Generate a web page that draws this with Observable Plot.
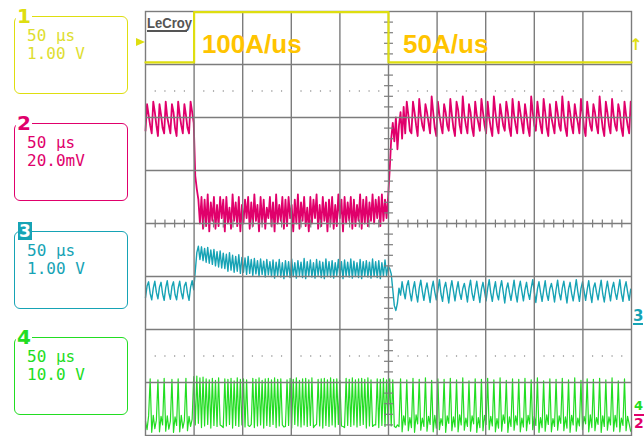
<!DOCTYPE html>
<html><head><meta charset="utf-8">
<script src="https://cdn.jsdelivr.net/npm/d3@7"></script>
<script src="https://cdn.jsdelivr.net/npm/@observablehq/plot@0.6"></script>
<style>
html,body{margin:0;padding:0;background:#fff;}
#wrap{position:relative;width:644px;height:436px;overflow:hidden;font-family:"DejaVu Sans",sans-serif;}
#chart{position:absolute;left:0;top:0;}
.box{position:absolute;left:14px;width:114px;height:78px;box-sizing:border-box;border:1.5px solid;border-radius:6px;padding:9.5px 0 0 12px;}
.box .l{font-family:"DejaVu Sans Mono",monospace;font-size:16px;line-height:18px;white-space:pre;}
.tag{position:absolute;font-weight:bold;font-size:20px;line-height:20px;background:#fff;padding:0 1px;}
.rmark{position:absolute;font-weight:bold;line-height:14px;}
#logo{position:absolute;left:147px;top:15px;font-family:"Liberation Sans",Arial,sans-serif;font-weight:bold;font-size:15px;line-height:15px;color:#555;transform:scaleX(0.87);transform-origin:left top;}
#logoline{position:absolute;left:147px;top:30px;width:40px;height:2px;background:#555;}
#trig{position:absolute;left:136px;top:38px;width:0;height:0;border-left:9px solid #dede10;border-top:4px solid transparent;border-bottom:4px solid transparent;}
</style>
</head><body>
<div id="wrap"><div id="chart"></div></div>
<script>
// ---- scope settings ----
const DT = 1.6;                       // µs between samples
const xGrid = [0,50,100,150,200,250,300,350,400,450,500];   // µs, 50 µs/div
const yGrid = [-4,-3,-2,-1,0,1,2,3,4];                       // divisions

// channel 1 (V): current-step trigger (load step)
const ch1Times  = [0, 50, 50, 250, 250, 500];
const ch1Values = [0, 0, 0.95, 0.95, 0, 0];

// channel 2 (mV): output voltage ripple
const ch2Before = [-5,5,1,-3, -6,6,2,-3, -7,5,1,-4, -6,6,0,-3, -6,5,2,-4, -7,6,1,-3, -6,5,1,-4, -6,6,2,-2];
const ch2During = [-22,-27,-31,
 -40,-30, -42,-31, -41,-29, -43,-32, -39,-30, -42,-33, -41,-30, -38,-31, -43,-30, -40,-34,
 -42,-29, -39,-32, -41,-30, -43,-33, -40,-31, -38,-30, -42,-32, -41,-29, -39,-33, -43,-30,
 -40,-31, -42,-34, -38,-30, -41,-32, -43,-29, -40,-33, -39,-30, -42,-31, -41,-30, -38,-33,
 -43,-31, -40,-29, -42,-32, -39,-30, -41,-34, -43,-30, -40,-31, -38,-29, -42,-33, -41,-30,
 -39,-32, -43,-31, -40,-30, -42,-33, -41,-29, -38,-31, -43,-30, -40,-32, -39,-30, -42,-31,
 -41,-33, -39,-29, -42,-31, -40,-30, -41,-32, -39,-29, -40,-31, -38,-30, -41,-29, -39,-31,
 -38,-30];
const ch2After = [-20,-8,-2,-9,0,-12,-3,2,-8,4,-6,6,1,-5,
 -6,6,2,-3, -7,7,1,-3, -5,5,2,-2, -6,8,2,-4, -7,6,1,-3,
 -6,5,2,-3, -5,7,1,-4, -7,6,3,-3, -6,8,1,-3, -6,5,2,-4,
 -7,6,1,-2, -5,7,2,-3, -6,6,0,-4, -7,8,2,-3, -6,5,1,-3,
 -5,6,2,-4, -7,7,1,-3, -6,6,2,-2, -6,5,1,-4, -7,8,2,-3,
 -5,6,1,-3, -6,7,2,-4, -7,5,0,-3, -6,6,2,-3, -5,8,1,-4,
 -7,6,2,-3, -6,5,1,-2, -6,7,2,-4, -7,6,1,-3, -5,5,2,-3,
 -6,8,1,-4, -7,6,2,-3, -6,7,1,-3, -5,5,2,-4, -7,6,1,-3,
 -6,6];

// channel 3 (V)
const ch3Before = [0.40,0.62,0.70,0.48, 0.36,0.58,0.71,0.50, 0.38,0.60,0.69,0.47, 0.35,0.59,0.72,0.49,
 0.37,0.61,0.70,0.46, 0.36,0.58,0.71,0.50, 0.38,0.62,0.69,0.48, 0.35,0.60,0.72,0.55];
const ch3During = [0.90,1.25,1.37,
 1.12,1.36, 1.10,1.33, 1.07,1.35, 1.05,1.30, 1.03,1.31, 1.00,1.27, 0.98,1.28, 0.96,1.24, 0.95,1.22, 0.90,1.25,
 0.92,1.20, 0.88,1.18, 0.90,1.21, 0.86,1.16, 0.88,1.15, 0.84,1.18, 0.86,1.12, 0.82,1.14, 0.85,1.10, 0.80,1.13,
 0.84,1.09, 0.79,1.12, 0.83,1.08, 0.80,1.11, 0.77,1.07, 0.82,1.12, 0.79,1.06, 0.76,1.10, 0.81,1.08, 0.78,1.13,
 0.80,1.06, 0.77,1.10, 0.82,1.07, 0.78,1.14, 0.76,1.08, 0.81,1.11, 0.79,1.06, 0.77,1.12, 0.82,1.09, 0.78,1.07,
 0.76,1.13, 0.80,1.08, 0.79,1.10, 0.77,1.06, 0.82,1.12, 0.78,1.08, 0.76,1.11, 0.81,1.07, 0.79,1.13, 0.77,1.09,
 0.80,1.06, 0.78,1.12, 0.76,1.08, 0.81,1.10, 0.79,1.07, 0.77,1.13, 0.80,1.08, 0.78,1.10, 0.76,1.06, 0.81,1.11,
 0.82,1.00];
const ch3After = [0.95,0.85,0.55,0.25,0.16,0.30,0.58,0.45,0.70,0.52,0.38,0.62,
 0.72,0.50,0.34,0.56, 0.70,0.48,0.32,0.58, 0.73,0.52,0.35,0.55, 0.68,0.49,0.31,0.57, 0.71,0.51,0.36,0.54, 0.74,0.47,0.33,0.58,
 0.69,0.50,0.30,0.56, 0.72,0.53,0.34,0.55, 0.70,0.49,0.37,0.57, 0.67,0.51,0.32,0.58, 0.73,0.48,0.35,0.54, 0.71,0.50,0.31,0.56,
 0.69,0.52,0.34,0.57, 0.74,0.49,0.33,0.55, 0.70,0.47,0.36,0.58, 0.72,0.51,0.30,0.56, 0.68,0.50,0.35,0.54, 0.73,0.48,0.32,0.57,
 0.71,0.52,0.34,0.55, 0.69,0.49,0.37,0.58, 0.74,0.51,0.31,0.56, 0.70,0.50,0.33,0.54, 0.72,0.47,0.35,0.57, 0.67,0.52,0.32,0.55,
 0.73,0.49,0.36,0.58, 0.71,0.50,0.30,0.56, 0.69,0.48,0.34,0.54, 0.74,0.51,0.33,0.57, 0.70,0.53,0.35,0.55, 0.72,0.49,0.31,0.58,
 0.68,0.50,0.36,0.56, 0.73,0.47,0.32,0.54, 0.71,0.52,0.34,0.57, 0.69,0.50,0.37,0.55, 0.74,0.48,0.33,0.58, 0.70,0.51,0.35,0.56];

// channel 4 (V): switch node
const ch4Before = [1.0,-0.6,2.0,9.0,-1.1,2.1,-0.4,1.2,8.8,-1.0,1.9,0.3,9.1,-0.9,2.0,-0.5,
 1.0,8.9,-1.1,1.8,0.2,9.0,-1.0,2.1,-0.3,1.1,9.1,-0.8,1.9,0.0,1.4,9.4];
const ch4During = [
 0.3,9.5, 0.6,9.2, -0.2,9.3, 0.1,9.0, 0.4,8.8, -0.3,9.1, 0.2,8.7, 0.0,9.2, 0.3,0.1, -0.2,9.0,
 0.1,8.9, 0.4,9.1, -0.3,8.6, 0.2,9.2, 0.0,8.9, 0.3,9.0, -0.1,8.8, 0.2,0.0, 0.4,9.1, -0.2,8.9,
 0.1,9.2, 0.3,8.7, -0.3,9.0, 0.2,9.1, 0.0,8.8, 0.4,9.2, -0.2,8.9, 0.1,9.0, 0.3,-0.1, 0.0,8.8,
 0.2,9.1, -0.3,8.9, 0.4,9.2, 0.1,8.7, -0.1,9.0, 0.3,9.1, 0.0,8.8, 0.2,9.2, -0.2,0.2, 0.4,8.9,
 0.1,9.0, -0.3,9.1, 0.2,8.8, 0.0,9.2, 0.3,8.9, -0.1,9.0, 0.4,8.7, 0.1,0.0, -0.2,9.1, 0.2,8.9,
 0.0,9.2, 0.3,8.8, -0.1,9.0, 0.2,9.1, 0.4,8.9, -0.3,9.2, 0.1,8.8, 0.0,0.3, 0.3,9.0, -0.2,8.9,
 0.2,9.1, 0.0,8.8,
 0.3];
const ch4After = [9.0,0.1,8.8,0.0,-0.2,0.3,0.0,
 9.0,-1.0,2.0,0.3, 8.8,-0.8,1.7,-0.2, 9.1,-1.1,2.2,0.5, 8.9,-0.7,1.6,0.0, 9.2,-0.9,1.9,0.4, 8.7,-1.0,2.1,-0.3, 9.0,-0.6,1.5,0.2, 8.9,-1.1,2.0,0.6,
 9.1,-0.8,1.8,-0.1, 8.8,-1.0,2.2,0.3, 9.2,-0.7,1.6,0.0, 8.6,-0.9,2.0,0.5, 9.0,-1.1,1.7,-0.2, 8.9,-0.8,2.1,0.4, 9.1,-0.6,1.9,0.1, 8.8,-1.0,1.5,-0.3,
 9.2,-0.9,2.2,0.6, 8.7,-1.1,1.8,0.0, 9.0,-0.7,2.0,0.3, 8.9,-1.0,1.6,-0.1, 9.1,-0.8,2.1,0.5, 8.8,-0.6,1.9,0.2, 9.2,-1.1,1.7,-0.2, 8.6,-0.9,2.2,0.4,
 9.0,-1.0,1.5,0.0, 8.9,-0.7,2.0,0.6, 9.1,-0.8,1.8,-0.3, 8.8,-1.1,2.1,0.3, 9.2,-0.9,1.6,0.1, 8.7,-0.6,1.9,0.5, 9.0,-1.0,2.2,-0.2, 8.9,-0.8,1.7,0.4,
 9.1,-1.1,2.0,0.0, 8.8,-0.7,1.8,0.3, 9.2,-0.9,2.1,-0.1, 8.6,-1.0,1.6,0.2, 9.0,-0.8,1.9,0.5,
 -0.9];

// channel descriptors (labels, colours, scale & offset)
const channels = [
  {id:"1", color:"#dede10", text:"#dede30", time:"50 μs", volts:"1.00 V", vdiv:1,  offset:3.04},
  {id:"2", color:"#e0006b", text:"#e0006b", time:"50 μs", volts:"20.0mV", vdiv:20, offset:2.0},
  {id:"3", color:"#16a3b5", text:"#16a3b5", time:"50 μs", volts:"1.00 V", vdiv:1,  offset:-1.8},
  {id:"4", color:"#22dd22", text:"#22dd22", time:"50 μs", volts:"10.0 V", vdiv:10, offset:-3.83}
];
const rateLabels = [{label:"100A/us", t:58, y:3.37}, {label:"50A/us", t:265, y:3.37}];

// ---- build sampled traces ----
function sampled(values, c) {
  return values.map((v, i) => ({t: i * DT, y: v / c.vdiv + c.offset}));
}
const tr2 = sampled([...ch2Before, ...ch2During, ...ch2After], channels[1]);
const tr3 = sampled([...ch3Before, ...ch3During, ...ch3After], channels[2]);
const tr4 = sampled([...ch4Before, ...ch4During, ...ch4After], channels[3]);
const tr1 = ch1Times.map((t, i) => ({t, y: ch1Values[i] / channels[0].vdiv + channels[0].offset}));

const xMinor = d3.range(1, 50).map(k => k * 10).filter(d => d % 50 !== 0);
const yMinor = d3.range(-20, 21).filter(k => k % 5 !== 0).map(k => k / 5);
const gridColor = "#7c7c7c";

const plot = Plot.plot({
  width: 644, height: 436,
  marginLeft: 145, marginRight: 13, marginTop: 11, marginBottom: 1,
  x: {domain: [0, 500], axis: null},
  y: {domain: [-4, 4], axis: null},
  style: {background: "transparent", overflow: "visible"},
  marks: [
    Plot.line(tr2, {x: "t", y: "y", stroke: channels[1].color, strokeWidth: 1.8}),
    Plot.line(tr3, {x: "t", y: "y", stroke: channels[2].color, strokeWidth: 1.4}),
    Plot.line(tr4, {x: "t", y: "y", stroke: channels[3].color, strokeWidth: 1.2}),
    Plot.ruleX(xGrid.slice(1, -1), {stroke: gridColor, strokeWidth: 1.4}),
    Plot.ruleY(yGrid.slice(1, -1), {stroke: gridColor, strokeWidth: 1.4}),
    Plot.link(yMinor, {x1: 245.4, x2: 254.6, y1: d => d, y2: d => d, stroke: gridColor, strokeWidth: 1.2}),
    Plot.link(xMinor, {x1: d => d, x2: d => d, y1: -0.075, y2: 0.075, stroke: gridColor, strokeWidth: 1.2}),
    Plot.dot(xMinor, {x: d => d, y: 2.5, r: 0.7, fill: "#888"}),
    Plot.dot(xMinor, {x: d => d, y: -2.5, r: 0.7, fill: "#888"}),
    Plot.frame({stroke: gridColor, strokeWidth: 1.4}),
    Plot.line(tr1, {x: "t", y: "y", stroke: channels[0].color, strokeWidth: 2.2, curve: "linear"}),
    Plot.text(rateLabels, {x: "t", y: "y", text: "label", fill: "#ffc400", fontSize: 26, fontWeight: "bold",
      fontFamily: "'Liberation Sans', Arial, sans-serif", textAnchor: "start", lineAnchor: "middle"})
  ]
});
const wrap = document.getElementById("wrap");
document.getElementById("chart").appendChild(plot);

// ---- scope side panel (channel legend) ----
channels.forEach((c, i) => {
  const top = [16, 123, 231, 337][i];
  const box = document.createElement("div");
  box.className = "box";
  box.style.top = top + "px";
  box.style.borderColor = c.color;
  box.style.color = c.text;
  box.innerHTML = `<div class="l">${c.time}</div><div class="l">${c.volts}</div>`;
  wrap.appendChild(box);
  const tag = document.createElement("div");
  tag.className = "tag";
  tag.textContent = c.id;
  tag.style.left = "16px";
  tag.style.top = (top - 10) + "px";
  if (c.id === "3") {
    tag.style.background = c.color; tag.style.color = "#fff";
    tag.style.fontSize = "17px"; tag.style.lineHeight = "18px";
    tag.style.left = "18px"; tag.style.top = (top - 9) + "px";
  } else {
    tag.style.color = c.color;
  }
  wrap.appendChild(tag);
});
const extras = [
  {html:"LeCroy", id:"logo"},
  {html:"", id:"logoline"},
  {html:"", id:"trig"}
];
extras.forEach(e => { const d = document.createElement("div"); d.id = e.id; d.textContent = e.html; wrap.appendChild(d); });
const rmarks = [
  {t:"↑", color:channels[0].color, left:629, top:38, size:16, under:false},
  {t:"3", color:channels[2].color, left:633, top:309, size:15, under:true},
  {t:"4", color:channels[3].color, left:634, top:399, size:13, under:false},
  {t:"2", color:channels[1].color, left:634, top:414, size:14, under:false, over:true}
];
rmarks.forEach(m => {
  const d = document.createElement("div");
  d.className = "rmark"; d.textContent = m.t;
  d.style.color = m.color; d.style.left = m.left + "px"; d.style.top = m.top + "px";
  d.style.fontSize = m.size + "px";
  if (m.under) d.style.borderBottom = "2px solid " + m.color;
  if (m.over) d.style.borderTop = "2px solid " + m.color;
  wrap.appendChild(d);
});
</script>
</body></html>
